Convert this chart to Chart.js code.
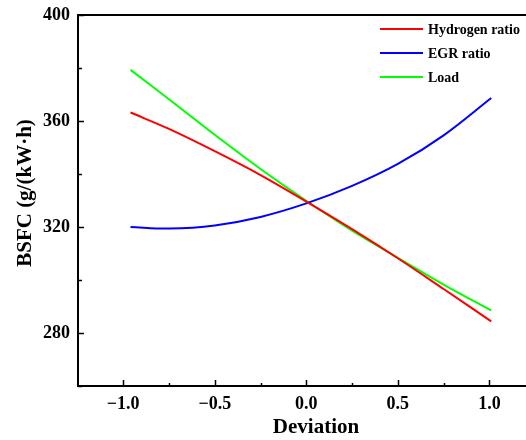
<!DOCTYPE html>
<html>
<head>
<meta charset="utf-8">
<script src="https://cdn.jsdelivr.net/npm/chart.js@4.4.1/dist/chart.umd.min.js"></script>
<style>
  html, body { margin: 0; padding: 0; background: #fff; }
  #wrap { width: 526px; height: 440px; }
</style>
</head>
<body>
<div id="wrap"><canvas id="myChart" width="526" height="440"></canvas></div>
<script>
// BSFC response vs. normalised deviation of each factor
var deviation = [-0.96, -0.75, -0.5, -0.25, 0, 0.25, 0.5, 0.75, 1.01];
var hydrogenRatio = [363.2, 357.0, 348.6, 339.6, 329.6, 319.2, 308.2, 296.6, 284.4];
var egrRatio = [320.0, 319.4, 320.6, 323.8, 328.9, 335.5, 343.8, 354.6, 368.7];
var load = [379.3, 368.2, 354.8, 341.9, 329.9, 318.6, 308.4, 298.3, 288.5];

var xMajor = [-1.0, -0.5, 0.0, 0.5, 1.0];
var xMinor = [-0.75, -0.25, 0.25, 0.75];
var yMajor = [280, 320, 360, 400];
var yMinor = [260, 300, 340, 380];

var seriesNames = ['Hydrogen ratio', 'EGR ratio', 'Load'];
var seriesColors = ['#ff0000', '#0000ff', '#00ff00'];

var FONT = '"Liberation Serif", "Times New Roman", serif';

function pts(ys) {
    return deviation.map(function (x, i) { return { x: x, y: ys[i] }; });
}

function fmt(v) {
    var s = Math.abs(v).toFixed(1);
    return v < 0 ? '\u2212' + s : s;
}

// frame, inward ticks, axis titles and legend
var framePlugin = {
    id: 'frame',
    afterDraw: function (chart) {
        var ctx = chart.ctx, a = chart.chartArea;
        var xs = chart.scales.x, ys = chart.scales.y;
        ctx.save();
        ctx.strokeStyle = '#000';
        ctx.lineWidth = 2;
        ctx.beginPath();
        ctx.moveTo(a.right + 2, a.top);
        ctx.lineTo(a.left, a.top);
        ctx.lineTo(a.left, a.bottom);
        ctx.lineTo(a.right + 2, a.bottom);
        ctx.stroke();

        ctx.lineWidth = 1.5;
        ctx.beginPath();
        xMajor.forEach(function (v) {
            var p = Math.round(xs.getPixelForValue(v)) + 0.5;
            ctx.moveTo(p, a.bottom); ctx.lineTo(p, a.bottom - 6);
        });
        xMinor.forEach(function (v) {
            var p = Math.round(xs.getPixelForValue(v)) + 0.5;
            ctx.moveTo(p, a.bottom); ctx.lineTo(p, a.bottom - 3);
        });
        yMajor.forEach(function (v) {
            var p = Math.round(ys.getPixelForValue(v)) + 0.5;
            ctx.moveTo(a.left, p); ctx.lineTo(a.left + 6, p);
        });
        yMinor.forEach(function (v) {
            var p = Math.round(ys.getPixelForValue(v)) + 0.5;
            ctx.moveTo(a.left, p); ctx.lineTo(a.left + 4, p);
        });
        ctx.stroke();

        // axis titles
        ctx.fillStyle = '#000';
        ctx.font = 'bold 21px ' + FONT;
        ctx.textAlign = 'center';
        ctx.textBaseline = 'middle';
        ctx.fillText('Deviation', 316, 428);
        ctx.save();
        ctx.translate(26, 193);
        ctx.rotate(-Math.PI / 2);
        ctx.fillText('BSFC (g/(kW\u00b7h)', 0, 0);
        ctx.restore();

        // legend
        ctx.font = 'bold 14px ' + FONT;
        ctx.textAlign = 'left';
        chart.data.datasets.forEach(function (ds, i) {
            var y = 29 + i * 24;
            ctx.strokeStyle = ds.borderColor;
            ctx.lineWidth = 2;
            ctx.beginPath();
            ctx.moveTo(380, y); ctx.lineTo(423, y);
            ctx.stroke();
            ctx.fillStyle = '#000';
            ctx.fillText(ds.label, 428, y + 1);
        });
        ctx.restore();
    }
};

var ctx = document.getElementById('myChart').getContext('2d');
var myChart = new Chart(ctx, {
    type: 'line',
    data: {
        datasets: [hydrogenRatio, egrRatio, load].map(function (ys, i) {
            return {
                label: seriesNames[i],
                data: pts(ys),
                borderColor: seriesColors[i],
                borderWidth: 2,
                pointRadius: 0,
                fill: false,
                tension: 0.35
            };
        })
    },
    options: {
        responsive: false,
        animation: false,
        layout: { padding: { top: 15, right: 0, left: 0, bottom: 0 } },
        plugins: { legend: { display: false }, tooltip: { enabled: false } },
        scales: {
            x: {
                type: 'linear',
                min: -1.247,
                max: 1.2,
                border: { display: false },
                grid: { display: false, drawTicks: false },
                afterBuildTicks: function (s) {
                    s.ticks = xMajor.map(function (v) { return { value: v }; });
                },
                afterFit: function (s) {
                    s.height = 54;
                    s.paddingLeft = 0;
                    s.paddingRight = 0;
                },
                ticks: {
                    padding: 8,
                    color: '#000',
                    font: { family: FONT, size: 18, weight: 'bold' },
                    callback: function (v) { return fmt(v); }
                }
            },
            y: {
                min: 260,
                max: 400,
                border: { display: false },
                grid: { display: false, drawTicks: false },
                afterBuildTicks: function (s) {
                    s.ticks = yMajor.map(function (v) { return { value: v }; });
                },
                afterFit: function (s) {
                    s.width = 78;
                    s.paddingTop = 0;
                    s.paddingBottom = 0;
                },
                ticks: {
                    padding: 8,
                    color: '#000',
                    font: { family: FONT, size: 18, weight: 'bold' }
                }
            }
        }
    },
    plugins: [framePlugin]
});
</script>
</body>
</html>
